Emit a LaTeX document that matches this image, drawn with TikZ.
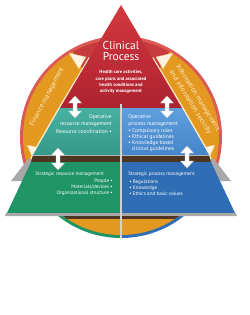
\documentclass[tikz,border=0pt]{standalone}
\usepackage{fontspec}
\setmainfont{PT Sans}
\definecolor{rimred}{HTML}{DC5A55}
\definecolor{capred}{HTML}{C73B3F}
\definecolor{orng}{HTML}{E3981F}
\definecolor{redtop}{HTML}{D3383F}
\definecolor{redbot}{HTML}{AE2230}
\definecolor{teal1}{HTML}{48B0A1}
\definecolor{teal2}{HTML}{35998B}
\definecolor{blue1}{HTML}{5F9FDD}
\definecolor{blue2}{HTML}{4585CA}
\definecolor{grn}{HTML}{1F9466}
\definecolor{blu}{HTML}{2F6EB5}
\definecolor{brn}{HTML}{4E3522}
\definecolor{plate}{HTML}{A8A8A8}
\definecolor{cream}{HTML}{FCEBC8}
\begin{document}
\begin{tikzpicture}[x=0.75pt,y=-0.75pt,
  txt/.style={text=white,inner sep=0pt,font=\fontsize{3.8}{4.3}\selectfont},
  midtxt/.style={text=white,inner sep=0pt,font=\fontsize{4.1}{4.6}\selectfont},
  subtxt/.style={text=white,inner sep=0pt,font=\fontsize{3.5}{4.2}\selectfont\bfseries},
  bandtxt/.style={text=cream,inner sep=0pt,font=\fontsize{5.3}{6}\selectfont},
  headarrow/.style={fill=cream!60!white,draw=orng!60!white,line width=0.2pt},
  dbl/.pic={\fill[white,draw=gray!45,line width=0.2pt] (0,-11)--(6.5,-4)--(2,-4)--(2,4)--(6.5,4)--(0,11)--(-6.5,4)--(-2,4)--(-2,-4)--(-6.5,-4)--cycle;}]
\useasboundingbox (0,0) rectangle (250,315);
% outer circle rim
\begin{scope}
\clip (121,137) circle[radius=75.75pt];
\fill[rimred] (0,0) rectangle (250,168);
\fill[grn] (0,168) rectangle (121,250);
\fill[blu] (121,168) rectangle (250,250);
\end{scope}
\fill[orng] (121,137) circle[radius=73.5pt];
\begin{scope}
\clip (121,137) circle[radius=73.5pt];
\fill[capred] (121,137) -- (47,6) -- (195,6) -- cycle;
\end{scope}
% pale strips along pyramid
\draw[cream,line width=2.2pt] (90,58) -- (60,108) -- (33,155) -- (31,162);
\draw[cream,line width=2.2pt] (152,58) -- (182,108) -- (209,155) -- (211,162);
% band arrowheads
\path[headarrow] (69,53) -- (86,57) -- (79,69) -- cycle;
\path[headarrow] (173,53) -- (156,57) -- (163,69) -- cycle;
\path[headarrow] (27,145) -- (41,148) -- (35,163) -- cycle;
\path[headarrow] (215,145) -- (201,148) -- (207,163) -- cycle;
% band texts
\node[bandtxt,rotate=62] (fin) at (47,97) {Finance management};
\node[bandtxt,rotate=-58] (info1) at (197.7,97.7) {Information management};
\node[bandtxt,rotate=-58] (info2) at (190.3,102.3) {and information security};
% gray plate
\fill[plate] (28,159) -- (214,159) -- (231,181) -- (11,181) -- cycle;
% red triangle
\shade[top color=redtop,bottom color=redbot] (121,5) -- (182,108) -- (60,108) -- cycle;
% middle layer
\shade[top color=teal1,bottom color=teal2] (60,108) -- (120.5,108) -- (120.5,155) -- (33,155) -- cycle;
\shade[top color=blue1,bottom color=blue2] (121.5,108) -- (182,108) -- (209,155) -- (121.5,155) -- cycle;
% dark strip
\fill[brn] (33,155) -- (209,155) -- (211,162) -- (31,162) -- cycle;
\draw[gray!60,line width=0.5pt] (33,155.3) -- (209,155.3);
% bottom layer
\fill[grn] (31,162) -- (120.5,162) -- (120.5,213) -- (7,213) -- cycle;
\fill[blu] (121.5,162) -- (211,162) -- (235,213) -- (121.5,213) -- cycle;
\fill[plate] (6,213) -- (236,213) -- (237,216) -- (5,216) -- cycle;
\begin{scope}
\clip (121,137) circle[radius=73.5pt];
\fill[brn] (0,216) rectangle (250,219);
\end{scope}
% divider
\draw[gray!35,line width=0.8pt] (121,104) -- (121,238);
% double arrows
\pic (a1) at (75,107) {dbl};
\pic (a2) at (167,107) {dbl};
\pic (a3) at (58,159) {dbl};
\pic (a4) at (187,157) {dbl};
% title
\node[text=white,inner sep=0pt,font=\fontsize{8.6}{9}\selectfont,anchor=base] (t1) at (121,49.5) {Clinical};
\node[text=white,inner sep=0pt,font=\fontsize{8.6}{9}\selectfont,anchor=base] (t2) at (121,60.5) {Process};
\node[subtxt,anchor=base] (s1) at (121,73.8) {Health care activities,};
\node[subtxt,anchor=base] (s2) at (121,80) {care plans and associated};
\node[subtxt,anchor=base] (s3) at (121,86.2) {health conditions and};
\node[subtxt,anchor=base] (s4) at (121,92.4) {activity management};
% teal middle
\node[midtxt,anchor=base east] (o1) at (112,118.5) {Operative};
\node[midtxt,anchor=base east] (o2) at (112,125.5) {resource management};
\node[midtxt,anchor=base east] (o3) at (112,133.5) {Resource coordination •};
% blue middle
\node[midtxt,anchor=base west] (p1) at (128,118.5) {Operative};
\node[midtxt,anchor=base west] (p2) at (128,125.5) {process management};
\node[midtxt,anchor=base west] (p3) at (128,132.5) {• Compulsory rules};
\node[midtxt,anchor=base west] (p4) at (128,138.5) {• Ethical guidelines};
\node[midtxt,anchor=base west] (p5) at (128,144.3) {• Knowledge based};
\node[midtxt,anchor=base west] (p6) at (131.5,150.2) {clinical guidelines};
% green bottom
\node[txt,anchor=base west] (g1) at (35,175.5) {Strategic resource management};
\node[txt,anchor=base east] (g2) at (113,182.5) {People •};
\node[txt,anchor=base east] (g3) at (113,188.5) {Materials/devices •};
\node[txt,anchor=base east] (g4) at (113,194.5) {Organizational structure •};
% blue bottom
\node[txt,anchor=base west] (b1) at (128,175.5) {Strategic process management};
\node[txt,anchor=base west] (b2) at (129,183) {• Regulations};
\node[txt,anchor=base west] (b3) at (129,189) {• Knowledge};
\node[txt,anchor=base west] (b4) at (129,195) {• Ethics and basic values};
\end{tikzpicture}
\end{document}
